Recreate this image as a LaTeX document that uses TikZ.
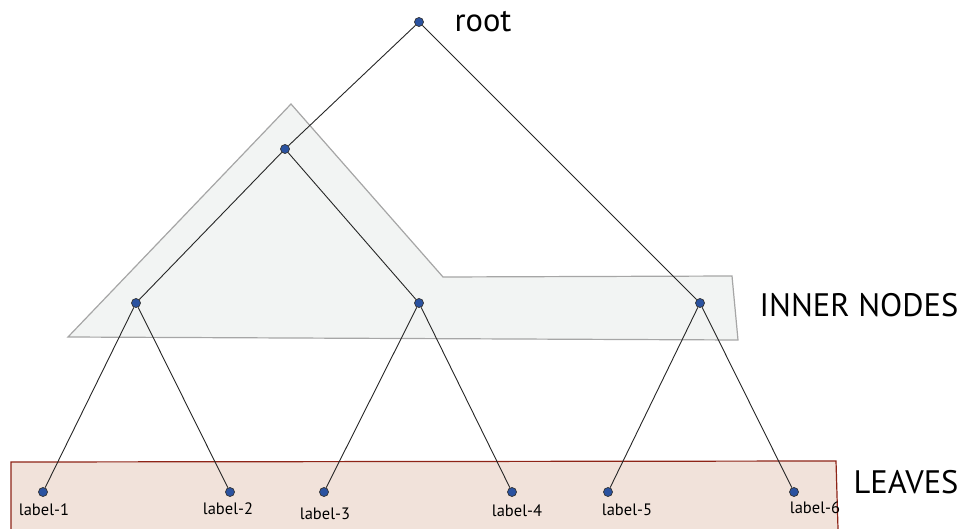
\documentclass[tikz,border=0pt]{standalone}
\usepackage{fontspec}
\setmainfont{PT Sans}
\definecolor{dotblue}{HTML}{2A52A0}
\definecolor{innerfill}{HTML}{F2F4F3}
\definecolor{leaffill}{HTML}{F1E2DA}
\definecolor{leafline}{HTML}{8E2417}
\begin{document}
\begin{tikzpicture}[x=1pt,y=-1pt,
  dot/.style={circle,fill=dotblue,draw=black!80,line width=0.7pt,inner sep=0pt,minimum size=9pt},
  edge/.style={line width=0.9pt,black!85},
  leaflabel/.style={font=\fontsize{16.5}{16.5}\selectfont,inner sep=0pt},
  group/.style={font=\fontsize{32.5}{32.5}\selectfont,inner sep=0pt}]
  \useasboundingbox (0,0) rectangle (965,529);
  \fill[innerfill,draw=black!35,line width=1.2pt] (291,104) -- (443,277) -- (732,276) -- (738,340) -- (68,337) -- cycle;
  \fill[leaffill,draw=leafline,line width=1.2pt] (11,529) -- (11,462) -- (836,461) -- (838,529);
  \node[dot] (root) at (419,22) {};
  \node[dot] (mid) at (285,149) {};
  \node[dot] (in1) at (136,303) {};
  \node[dot] (in2) at (419,303) {};
  \node[dot] (in3) at (700,303) {};
  \node[dot] (lf1) at (43,492) {};
  \node[dot] (lf2) at (230,492) {};
  \node[dot] (lf3) at (324,492) {};
  \node[dot] (lf4) at (512,492) {};
  \node[dot] (lf5) at (608,492) {};
  \node[dot] (lf6) at (794,492) {};
  \draw[edge] (root) -- (mid);
  \draw[edge] (root) -- (in3);
  \draw[edge] (mid) -- (in1);
  \draw[edge] (mid) -- (in2);
  \draw[edge] (in1) -- (lf1);
  \draw[edge] (in1) -- (lf2);
  \draw[edge] (in2) -- (lf3);
  \draw[edge] (in2) -- (lf4);
  \draw[edge] (in3) -- (lf5);
  \draw[edge] (in3) -- (lf6);
  \node[group] (rootlbl) at (483,22) {root};
  \node[group] (innerlbl) at (859,305) {INNER NODES};
  \node[group] (leaflbl) at (906,482) {LEAVES};
  \node[leaflabel] (t1) at (44,510) {label-1};
  \node[leaflabel] (t2) at (228,509) {label-2};
  \node[leaflabel] (t3) at (325,514) {label-3};
  \node[leaflabel] (t4) at (517,511) {label-4};
  \node[leaflabel] (t5) at (627,510) {label-5};
  \node[leaflabel] (t6) at (815,508) {label-6};
\end{tikzpicture}
\end{document}
